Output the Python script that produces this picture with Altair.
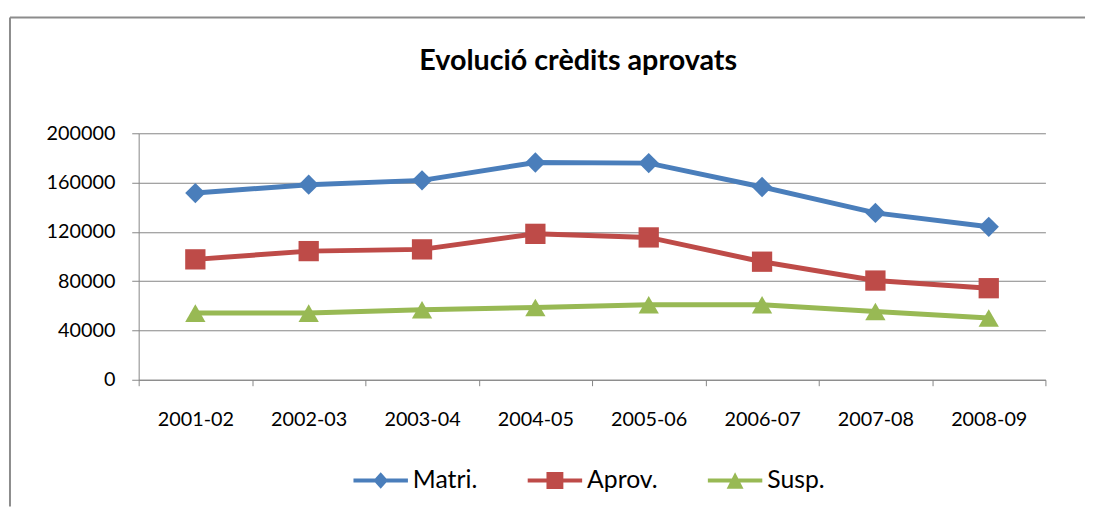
import altair as alt
import pandas as pd

# ---------------- data ----------------
categories = ["2001-02", "2002-03", "2003-04", "2004-05", "2005-06", "2006-07", "2007-08", "2008-09"]
series_names = ["Matri.", "Aprov.", "Susp."]
matri = [151500, 158300, 161800, 176300, 175800, 156400, 135400, 124100]
aprov = [97700, 104400, 105800, 118400, 115500, 95800, 80500, 74300]
susp = [54100, 54100, 56800, 58600, 60800, 60800, 55400, 50100]
y_ticks = [0, 40000, 80000, 120000, 160000, 200000]
title_text = "Evolució crèdits aprovats"

colors = ["#4A7EBB", "#BE4B48", "#98B954"]
markers = ["diamond", "square", "triangle-up"]
# legend glyphs: a line with the marker in the middle (Excel style)
line_part = "M-1,-0.075H1V0.075H-1Z"
legend_shapes = [
    line_part + "M0,-0.3L0.27,0L0,0.3L-0.27,0Z",
    line_part + "M-0.31,-0.31H0.31V0.31H-0.31Z",
    line_part + "M0,-0.3L0.31,0.3H-0.31Z",
]

rows = []
for name, vals in zip(series_names, [matri, aprov, susp]):
    for c, v in zip(categories, vals):
        rows.append({"curs": c, "serie": name, "valor": v})
df = pd.DataFrame(rows)

W, H = 916, 249
FONT = "Lato"
GRAY = "#868686"

x_enc = alt.X(
    "curs:N",
    sort=categories,
    scale=alt.Scale(paddingInner=0, paddingOuter=0),
    axis=alt.Axis(
        title=None, grid=False, tickBand="extent", labelAngle=0,
        domainColor=GRAY, domainWidth=1, tickColor=GRAY, tickWidth=1, tickSize=6,
        labelFont=FONT, labelFontSize=20, labelColor="black", labelPadding=24,
    ),
)
y_enc = alt.Y(
    "valor:Q",
    scale=alt.Scale(domain=[0, 200000], nice=False),
    axis=alt.Axis(
        title=None, values=y_ticks, format="d", grid=True, gridColor=GRAY, gridWidth=1,
        domainColor=GRAY, domainWidth=1, tickColor=GRAY, tickWidth=1, tickSize=7,
        labelFont=FONT, labelFontSize=20, labelColor="black", labelPadding=17,
    ),
)

legend_params = dict(
    title=None, orient="none", legendX=217, legendY=323, direction="horizontal",
    symbolSize=3025, symbolStrokeWidth=0, symbolOpacity=1, labelFont=FONT, labelFontSize=25,
    labelColor="black", labelOffset=5, columnPadding=50, padding=0,
)

# tiny points hidden under the real markers; they carry the (only) legend
legend_carrier = alt.Chart(df).mark_point(filled=True, size=1).encode(
    x=x_enc, y=y_enc,
    color=alt.Color("serie:N", scale=alt.Scale(domain=series_names, range=colors),
                    sort=series_names, legend=alt.Legend(**legend_params)),
    shape=alt.Shape("serie:N", scale=alt.Scale(domain=series_names, range=legend_shapes),
                    sort=series_names, legend=alt.Legend(**legend_params)),
)

series_layers = []
for name, col, mk in zip(series_names, colors, markers):
    base = alt.Chart(df).transform_filter(alt.datum.serie == name)
    series_layers.append(base.mark_line(strokeWidth=5, color=col).encode(x=x_enc, y=y_enc))
for name, col, mk in zip(series_names, colors, markers):
    base = alt.Chart(df).transform_filter(alt.datum.serie == name)
    series_layers.append(
        base.mark_point(filled=True, size=420, opacity=1, shape=mk, color=col).encode(x=x_enc, y=y_enc)
    )

one = pd.DataFrame({"t": [title_text]})
title = alt.Chart(one).mark_text(
    font=FONT, fontSize=29, fontWeight="bold", color="black", align="center", baseline="alphabetic"
).encode(text="t:N", x=alt.value(444), y=alt.value(-64))

frame_top = alt.Chart(one).mark_rule(color="#8c8c8c", strokeWidth=2).encode(
    x=alt.value(-130), x2=alt.value(W + 40), y=alt.value(-117)
)
frame_left = alt.Chart(one).mark_rule(color="#8c8c8c", strokeWidth=2).encode(
    x=alt.value(-130), y=alt.value(-117), y2=alt.value(H + 128)
)

chart = (
    alt.layer(frame_top, frame_left, title, legend_carrier, *series_layers)
    .properties(width=W, height=H, padding={"left": 1, "top": 6, "right": 0, "bottom": 0},
                background="white")
    .configure_view(stroke=None)
)

chart.save("out.html", embed_options={"renderer": "svg", "actions": False})
